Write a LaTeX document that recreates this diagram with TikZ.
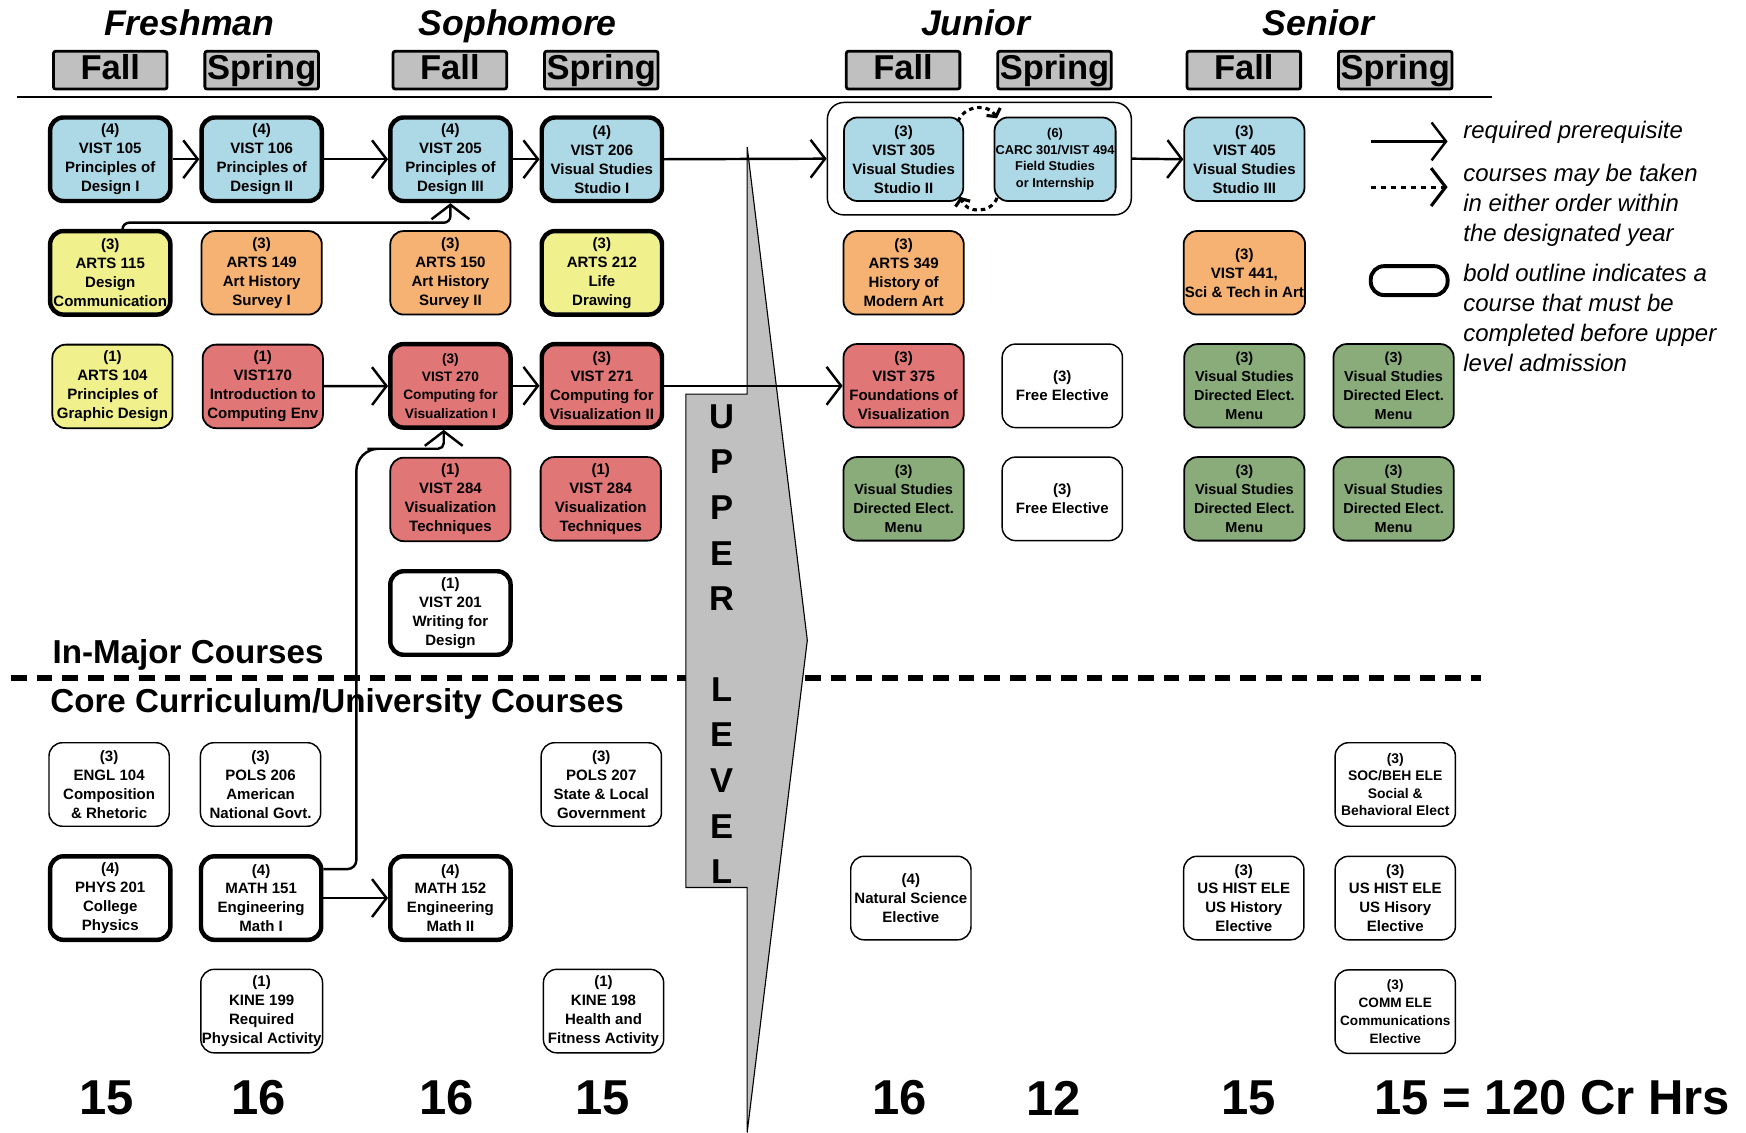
\documentclass[tikz,border=0pt]{standalone}
\usepackage{fontspec}
\setmainfont{Liberation Sans}
\usetikzlibrary{arrows.meta,calc}
\definecolor{studioblue}{RGB}{173,216,230}
\definecolor{artyellow}{RGB}{240,240,140}
\definecolor{historange}{RGB}{245,178,115}
\definecolor{vizred}{RGB}{224,118,118}
\definecolor{menugreen}{RGB}{138,172,122}
\definecolor{lvlgray}{RGB}{192,192,192}
\tikzset{
  course/.style={draw, line width=1.6pt, rounded corners=12pt, minimum width=108pt, minimum height=75pt, inner sep=1pt, align=center, font=\bfseries\fontsize{13.5}{17}\selectfont},
  must/.style={course, line width=4pt},
  core/.style={course, fill=white, line width=1.3pt},
  year/.style={font=\bfseries\itshape\fontsize{32}{32}\selectfont, text height=23pt, text depth=7pt, inner sep=0pt},
  season/.style={draw, fill=lvlgray, line width=2.5pt, rounded corners=2pt, minimum width=102pt, minimum height=34pt, inner sep=0pt, text height=23pt, text depth=6.5pt, font=\bfseries\fontsize{31}{31}\selectfont},
  lvl/.style={font=\bfseries\fontsize{31}{31}\selectfont, inner sep=0pt},
  total/.style={font=\bfseries\fontsize{44}{44}\selectfont, inner sep=0pt},
  legend/.style={font=\itshape\fontsize{21.5}{27}\selectfont, align=left, inner sep=0pt},
  req/.style={line width=2.2pt, -{Straight Barb[length=13pt,width=34pt]}},
  either/.style={line width=2.8pt, dash pattern=on 4pt off 3.5pt, -{Straight Barb[length=5pt,width=14pt]}},
}

\begin{document}
\begin{tikzpicture}[x=1pt,y=-1pt]
		%%%%% START %%%%%
		\useasboundingbox (0,0) rectangle (1568,1017);
		
		\node[year] (fresh) at (170,24) {Freshman};
		\node[year] (soph) at (465,24) {Sophomore};
		\node[year] (junior) at (876,24) {Junior};
		\node[year] (senior) at (1184,24) {Senior};
		
		\node[season] (fall1) at (99,63) {Fall};
		\node[season] (spring1) at (235,63) {Spring};
		\node[season] (fall2) at (404,63) {Fall};
		\node[season] (spring2) at (540,63) {Spring};
		\node[season] (fall3) at (811,63) {Fall};
		\node[season] (spring3) at (947,63) {Spring};
		\node[season] (fall4) at (1117,63) {Fall};
		\node[season] (spring4) at (1253,63) {Spring};
		
		\draw[line width=2pt] (15,87) -- (1340,87);
		\draw[line width=5pt, dash pattern=on 14pt off 9pt] (10,609) -- (1330,609);
		
		\draw[fill=lvlgray, line width=1pt] (671,132) -- (725,575) -- (671,1017) -- (671,797) -- (616,797) -- (616,354) -- (671,354) -- cycle;
		\foreach \ch [count=\i] in {U,P,P,E,R}
			\node[lvl] (up\i) at (648,333+41*\i) {\ch};
		\foreach \ch [count=\i] in {L,E,V,E,L}
			\node[lvl] (lv\i) at (648,578+41*\i) {\ch};
		
		\node[anchor=base west, inner sep=0pt, font=\bfseries\fontsize{29.8}{30}\selectfont] (inmajor) at (47,596) {In-Major Courses};
		\node[anchor=base west, inner sep=0pt, font=\bfseries\fontsize{29.8}{30}\selectfont] (corecur) at (45,640) {Core Curriculum/University Courses};
		
		% in-major courses
		\node[must, fill=studioblue] (v105) at (99,143) {(4)\\VIST 105\\Principles of\\Design I};
		\node[must, fill=studioblue] (v106) at (235,143) {(4)\\VIST 106\\Principles of\\Design II};
		\node[must, fill=studioblue] (v205) at (404.5,143) {(4)\\VIST 205\\Principles of\\Design III};
		\node[must, fill=studioblue] (v206) at (540.5,143) {(4)\\VIST 206\\Visual Studies\\Studio I};
		\node[draw, line width=1.3pt, rounded corners=15pt, minimum width=273pt, minimum height=101pt] (jgrp) at (879.5,142.5) {};
		\node[course, fill=studioblue, minimum width=107pt] (v305) at (811.5,143) {(3)\\VIST 305\\Visual Studies\\Studio II};
		\node[course, fill=studioblue, font=\bfseries\fontsize{11.5}{15}\selectfont] (carc) at (947.5,143) {(6)\\CARC 301/VIST 494\\Field Studies\\or Internship};
		\node[course, fill=studioblue] (v405) at (1117.5,143) {(3)\\VIST 405\\Visual Studies\\Studio III};
		
		\node[must, fill=artyellow] (a115) at (99,245) {(3)\\ARTS 115\\Design\\Communication};
		\node[course, fill=historange] (a149) at (235,245) {(3)\\ARTS 149\\Art History\\Survey I};
		\node[course, fill=historange] (a150) at (404.5,245) {(3)\\ARTS 150\\Art History\\Survey II};
		\node[must, fill=artyellow] (a212) at (540.5,245) {(3)\\ARTS 212\\Life\\Drawing};
		\node[course, fill=historange] (a349) at (811.5,245) {(3)\\ARTS 349\\History of\\Modern Art};
		\node[course, fill=historange] (v441) at (1117.5,245) {(3)\\VIST 441,\\Sci \& Tech in Art};
		
		\node[course, fill=artyellow] (a104) at (101,347) {(1)\\ARTS 104\\Principles of\\Graphic Design};
		\node[course, fill=vizred] (v170) at (236,347) {(1)\\VIST170\\Introduction to\\Computing Env};
		\node[must, fill=vizred, font=\bfseries\fontsize{12.3}{16.5}\selectfont] (v270) at (404.5,346.5) {(3)\\VIST 270\\Computing for\\Visualization I};
		\node[must, fill=vizred] (v271) at (540.5,346.5) {(3)\\VIST 271\\Computing for\\Visualization II};
		\node[course, fill=vizred] (v375) at (811.5,346.5) {(3)\\VIST 375\\Foundations of\\Visualization};
		\node[core] (free1) at (954,346.5) {(3)\\Free Elective};
		\node[course, fill=menugreen, font=\bfseries\fontsize{13}{17}\selectfont] (dir1) at (1117.5,346.5) {(3)\\Visual Studies\\Directed Elect.\\Menu};
		\node[course, fill=menugreen, font=\bfseries\fontsize{13}{17}\selectfont] (dir2) at (1251.5,346.5) {(3)\\Visual Studies\\Directed Elect.\\Menu};
		
		\node[course, fill=vizred] (v284a) at (404.5,448.5) {(1)\\VIST 284\\Visualization\\Techniques};
		\node[course, fill=vizred] (v284b) at (539.5,448) {(1)\\VIST 284\\Visualization\\Techniques};
		\node[course, fill=menugreen, font=\bfseries\fontsize{13}{17}\selectfont] (dir3) at (811.5,448) {(3)\\Visual Studies\\Directed Elect.\\Menu};
		\node[core] (free2) at (954,448) {(3)\\Free Elective};
		\node[course, fill=menugreen, font=\bfseries\fontsize{13}{17}\selectfont] (dir4) at (1117.5,448) {(3)\\Visual Studies\\Directed Elect.\\Menu};
		\node[course, fill=menugreen, font=\bfseries\fontsize{13}{17}\selectfont] (dir5) at (1251.5,448) {(3)\\Visual Studies\\Directed Elect.\\Menu};
		
		\node[must, fill=white] (v201) at (404.5,550.5) {(1)\\VIST 201\\Writing for\\Design};
		
		% core curriculum
		\node[core] (engl) at (98,704.5) {(3)\\ENGL 104\\Composition\\\& Rhetoric};
		\node[core] (pols206) at (234,704.5) {(3)\\POLS 206\\American\\National Govt.};
		\node[core] (pols207) at (540,704.5) {(3)\\POLS 207\\State \& Local\\Government};
		\node[core, font=\bfseries\fontsize{12.5}{15.5}\selectfont] (socbeh) at (1253,704.5) {(3)\\SOC/BEH ELE\\Social \&\\Behavioral Elect};
		
		\node[must, fill=white] (phys) at (99,806.5) {(4)\\PHYS 201\\College\\Physics};
		\node[must, fill=white] (m151) at (234.5,806.5) {(4)\\MATH 151\\Engineering\\Math I};
		\node[must, fill=white] (m152) at (404.5,806.5) {(4)\\MATH 152\\Engineering\\Math II};
		\node[core] (natsci) at (818,806.5) {(4)\\Natural Science\\Elective};
		\node[core] (ushist1) at (1117,806.5) {(3)\\US HIST ELE\\US History\\Elective};
		\node[core] (ushist2) at (1253,806.5) {(3)\\US HIST ELE\\US Hisory\\Elective};
		
		\node[core] (kine199) at (235,908) {(1)\\KINE 199\\Required\\Physical Activity};
		\node[core] (kine198) at (542,908) {(1)\\KINE 198\\Health and\\Fitness Activity};
		\node[core, font=\bfseries\fontsize{12.2}{16}\selectfont] (comm) at (1253,908.5) {(3)\\COMM ELE\\Communications\\Elective};
		
		% prerequisites
		\draw[req] (v105) -- (v106);
		\draw[req] (v106) -- (v205);
		\draw[req] (v205) -- (v206);
		\draw[req] (v206.east) -- (jgrp.west);
		\draw[req] (jgrp.east) -- (v405.west);
		\draw[req, rounded corners=6pt] ($(a115.north)+(11,0)$) |- (404.5,200) -- (v205.south);
		\draw[either] ($(v305.north east)+(-5.5,4.5)$) .. controls (866,94) and (888,93) .. ($(carc.north west)+(3,1.5)$);
		\draw[either] ($(carc.south west)+(3,-3.5)$) .. controls (890,192) and (868,192) .. ($(v305.south east)+(-3.5,-4.5)$);
		\draw[req] (v170) -- (v270);
		\draw[req] (v270) -- (v271);
		\draw[req] (v271.east) -- (v375.west);
		\draw[req] (m151) -- (m152);
		\draw[req] ($(m151.east)+(0,-26)$) [rounded corners=8pt] -| (320,560) [rounded corners=20pt] |- (350,403) [rounded corners=5pt] -| ($(v270.south)+(-6,0)$);
		
		% legend
		\coordinate (lgA) at (1231,127);
		\coordinate (lgB) at (1300,127);
		\coordinate (lgC) at (1231,168);
		\coordinate (lgD) at (1300,168);
		\draw[req] (lgA) -- (lgB);
		\draw[req, line width=2.8pt, dash pattern=on 5pt off 4pt] (lgC) -- (lgD);
		\draw[line width=3.5pt, rounded corners=12pt] (1231,239) rectangle (1300,265);
		\node[legend, anchor=west] (lgreq) at (1314,119) {required prerequisite};
		\node[legend, anchor=west] (lgeither) at (1314,184) {courses may be taken\\in either order within\\the designated year};
		\node[legend, anchor=west] (lgbold) at (1314,285.5) {bold outline indicates a\\course that must be\\completed before upper\\level admission};
		
		% credit hours
		\node[total] (tot1) at (96,986) {15};
		\node[total] (tot2) at (232,986) {16};
		\node[total] (tot3) at (401,986) {16};
		\node[total] (tot4) at (541,986) {15};
		\node[total] (tot5) at (808,986) {16};
		\node[total] (tot6) at (946,986) {12};
		\node[total] (tot7) at (1121,986) {15};
		\node[total] (tot8) at (1394,986) {15 = 120 Cr Hrs};
		
		%%%%% END %%%%%
	\end{tikzpicture}
\end{document}
